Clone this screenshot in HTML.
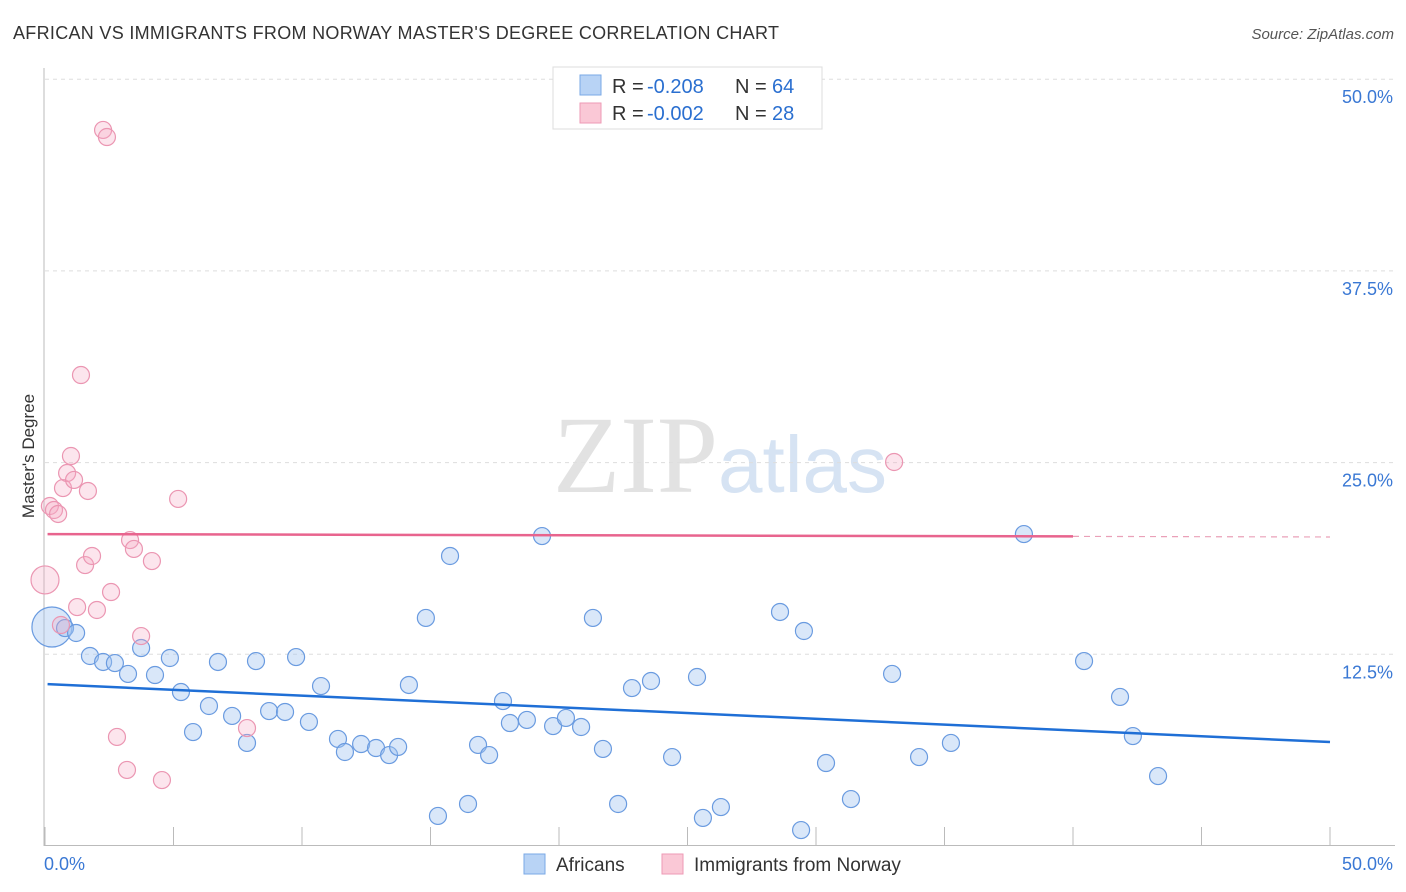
<!DOCTYPE html>
<html><head><meta charset="utf-8"><style>
body{margin:0;background:#fff;font-family:"Liberation Sans",sans-serif;}
#wrap{position:relative;width:1406px;height:892px;overflow:hidden}
</style></head><body>
<div id="wrap">
<svg id="svg" width="1406" height="892" xmlns="http://www.w3.org/2000/svg">
<text x="13" y="39" font-size="18" fill="#333" letter-spacing="0.3">AFRICAN VS IMMIGRANTS FROM NORWAY MASTER'S DEGREE CORRELATION CHART</text>
<text x="1394" y="39" font-size="15" fill="#555" font-style="italic" text-anchor="end">Source: ZipAtlas.com</text>
<text x="34" y="456" font-size="17" fill="#333" text-anchor="middle" transform="rotate(-90 34 456)">Master's Degree</text>
<text x="553" y="492" font-size="110" fill="#e2e2e2" font-family="Liberation Serif,serif">ZIP</text>
<text x="718" y="492" font-size="80" fill="#d6e3f3">atlas</text>
<g id="grid"></g><g id="pts"></g><g id="lines"></g>
<g>
<rect x="553" y="67" width="269" height="62" fill="#fff" stroke="#ddd"/>
<rect x="580" y="75" width="21" height="20" fill="#b8d3f5" stroke="#7aa8e6"/>
<rect x="580" y="103" width="21" height="20" fill="#fac8d6" stroke="#ee9ab5"/>
<text x="612" y="93" font-size="20" fill="#333">R =</text>
<text x="647" y="93" font-size="20" fill="#2a6fd0">-0.208</text>
<text x="735" y="93" font-size="20" fill="#333">N =</text>
<text x="772" y="93" font-size="20" fill="#2a6fd0">64</text>
<text x="612" y="120" font-size="20" fill="#333">R =</text>
<text x="647" y="120" font-size="20" fill="#2a6fd0">-0.002</text>
<text x="735" y="120" font-size="20" fill="#333">N =</text>
<text x="772" y="120" font-size="20" fill="#2a6fd0">28</text>
</g>
<g>
<rect x="524" y="854" width="21" height="20" fill="#b8d3f5" stroke="#7aa8e6"/>
<text x="556" y="871" font-size="19" fill="#333">Africans</text>
<rect x="662" y="854" width="21" height="20" fill="#fac8d6" stroke="#ee9ab5"/>
<text x="694" y="871" font-size="19" fill="#333">Immigrants from Norway</text>
</g>
<text x="44" y="870" font-size="18" fill="#3a78d4">0.0%</text>
<text x="1393" y="870" font-size="18" fill="#3a78d4" text-anchor="end">50.0%</text>
</svg>
</div>
<script>
const yTicks=[50,37.5,25,12.5];
const yTickLabels=["50.0%","37.5%","25.0%","12.5%"];
const blueX=[0.27,0.78,1.21,1.75,2.26,2.72,3.23,3.74,4.28,4.86,5.29,5.76,6.38,6.73,7.28,7.86,8.21,8.72,9.34,9.77,10.27,10.74,11.40,11.67,12.30,12.88,13.39,13.74,14.16,14.82,15.29,15.76,16.46,16.85,17.28,17.82,18.09,18.75,19.34,19.77,20.27,20.86,21.32,21.71,22.30,22.84,23.58,24.40,25.37,25.60,26.30,28.60,29.42,29.53,30.39,31.36,32.96,34.01,35.25,38.09,40.43,41.83,42.33,43.31];
const blueY=[14.28,14.21,13.89,12.39,12.0,11.93,11.22,12.91,11.15,12.26,10.04,7.43,9.13,12.0,8.48,6.72,12.06,8.80,8.74,12.32,8.09,10.43,6.98,6.13,6.65,6.39,5.93,6.46,10.50,14.87,1.96,18.91,2.74,6.59,5.93,9.45,8.02,8.22,20.21,7.82,8.35,7.76,14.87,6.33,2.74,10.30,10.76,5.80,11.02,1.83,2.54,15.26,1.04,14.02,5.41,3.06,11.22,5.80,6.72,20.34,12.06,9.72,7.17,4.56];
const pinkX=[0.0,0.19,0.35,0.51,0.62,0.70,0.86,1.01,1.13,1.40,1.56,1.67,1.83,2.02,1.25,2.26,2.41,2.57,2.80,3.19,3.31,3.46,3.74,4.16,4.55,5.18,7.86,33.04];
const pinkY=[17.35,22.17,21.91,21.65,14.41,23.34,24.32,25.43,23.87,30.71,18.32,23.15,18.91,15.39,15.58,46.69,46.23,16.56,7.11,4.96,19.95,19.37,13.69,18.58,4.30,22.63,7.69,25.04];
const blueTrend=[10.56,6.78];
const pinkTrend=[20.34,20.15];
const NS="http://www.w3.org/2000/svg";
const X=v=>45+v*25.7, Y=v=>846-v*15.336;
function mk(t,a,p){const e=document.createElementNS(NS,t);for(const k in a)e.setAttribute(k,a[k]);p.appendChild(e);return e;}
const grid=document.getElementById('grid');
yTicks.forEach((t,i)=>{
 const l=mk('line',{x1:45,x2:1395,y1:Y(t),y2:Y(t),stroke:'#ddd','stroke-dasharray':'4,4'},grid);
 
 
 const tx=mk('text',{x:1393,y:Y(t)+24,'font-size':18,fill:'#3a78d4','text-anchor':'end'},grid);
 tx.textContent=yTickLabels[i];
 
 
});
mk('line',{x1:44,x2:44,y1:68,y2:846,stroke:'#bbb'},grid);
mk('line',{x1:44,x2:1395,y1:845.5,y2:845.5,stroke:'#bbb'},grid);
for(let i=0;i<=10;i++){const t=mk('line',{x1:X(i*5),x2:X(i*5),y1:827,y2:846,stroke:'#bbb'},grid);
 
 }
const pts=document.getElementById('pts');
blueX.forEach((x,i)=>{const r=i===0?20:8.5;
 const c=mk('circle',{cx:X(x),cy:Y(blueY[i]),r:r,fill:'rgba(160,196,240,0.4)',stroke:'#6a9be0','stroke-width':1.2},pts);
 
 });
pinkX.forEach((x,i)=>{const r=i===0?14:8.5;
 const c=mk('circle',{cx:X(x),cy:Y(pinkY[i]),r:r,fill:'rgba(245,170,195,0.3)',stroke:'#eb96b2','stroke-width':1.2},pts);
 
 });
const lines=document.getElementById('lines');
const by=x=>blueTrend[0]+(blueTrend[1]-blueTrend[0])*x/50, py=x=>pinkTrend[0]+(pinkTrend[1]-pinkTrend[0])*x/50;
let b=mk('line',{x1:X(0.1),y1:Y(by(0.1)),x2:X(50),y2:Y(by(50)),stroke:'#1f6fd6','stroke-width':2.5},lines);


let p=mk('line',{x1:X(0.1),y1:Y(py(0.1)),x2:X(40),y2:Y(py(40)),stroke:'#e8648e','stroke-width':2.5},lines);


let pd=mk('line',{x1:X(40),y1:Y(py(40)),x2:X(50),y2:Y(py(50)),stroke:'#eaa0b8','stroke-width':1.2,'stroke-dasharray':'6,5'},lines);


</script>
</body></html>
